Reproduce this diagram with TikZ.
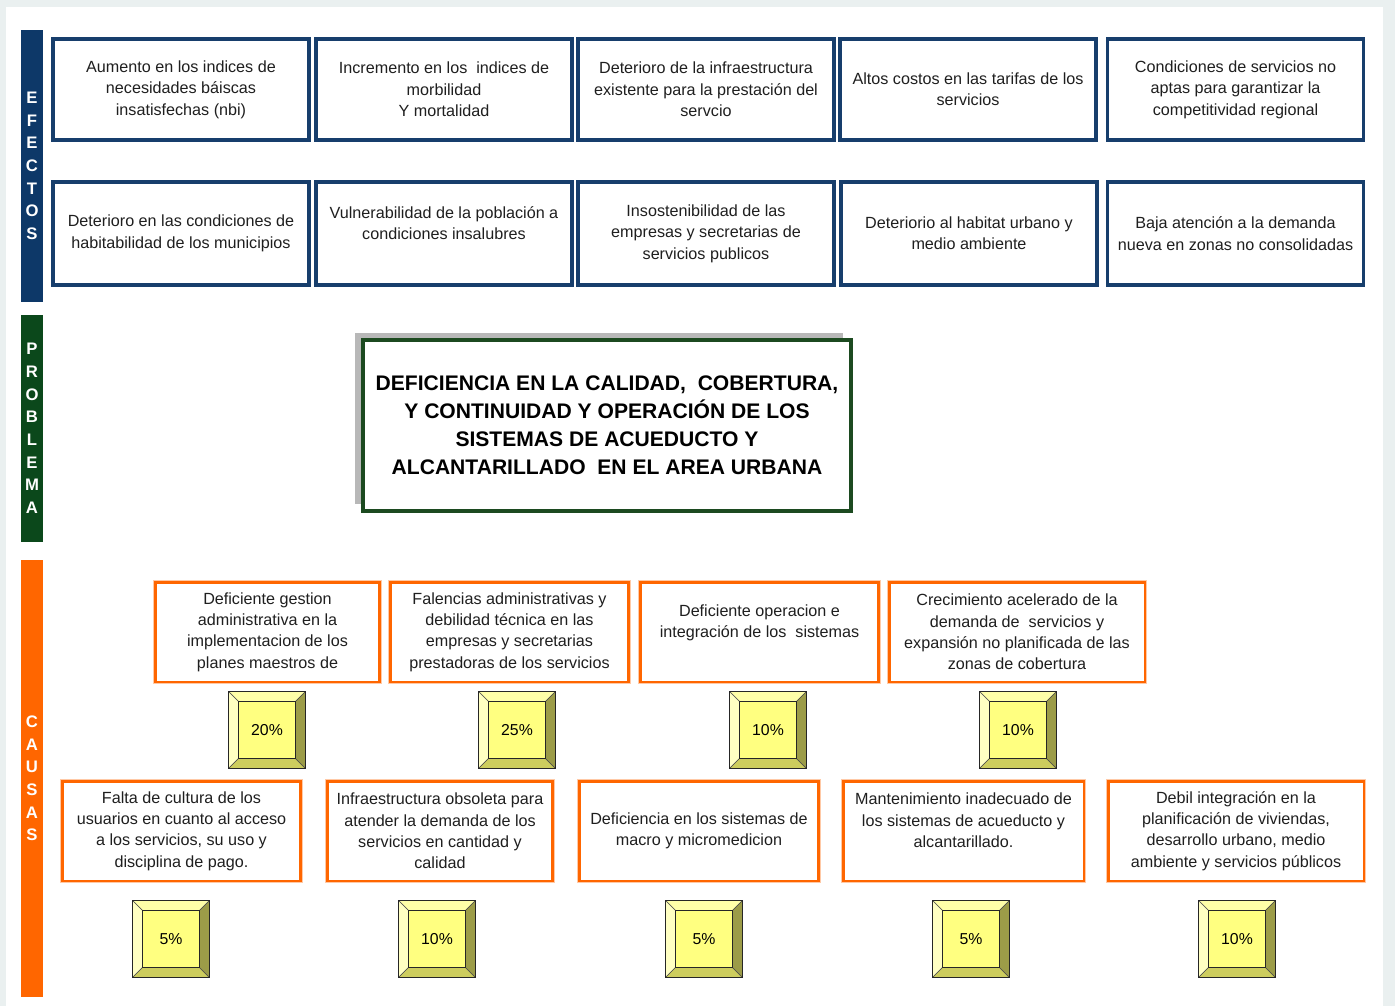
\documentclass[tikz,border=0pt]{standalone}
\usepackage{fontspec}
\setmainfont{Liberation Sans}
\usepackage{tikz}

\definecolor{fondo}{HTML}{EAF0F0}
\definecolor{azulbarra}{HTML}{0D3868}
\definecolor{azulborde}{HTML}{173E6C}
\definecolor{verdebarra}{HTML}{0B481B}
\definecolor{verdeborde}{HTML}{1C4A20}
\definecolor{naranja}{HTML}{FF6600}
\definecolor{cara}{HTML}{FFFF80}
\definecolor{biselsup}{HTML}{FFFFA8}
\definecolor{biselizq}{HTML}{FFFFC2}
\definecolor{biselinf}{HTML}{CDCD5E}
\definecolor{biselder}{HTML}{9C9C48}

\begin{document}
\begin{tikzpicture}[x=0.02cm, y=-0.02cm,
                    barra/.style={rectangle, minimum width=0.44cm, inner sep=0pt, text=white, align=center,
                                  font=\bfseries\fontsize{9.5}{12.9}\selectfont},
                    efecto/.style={rectangle, draw=azulborde, line width=1.8pt, minimum width=5.12cm, minimum height=#1,
                                   align=center, inner sep=2pt, font=\fontsize{9.2}{12.2}\selectfont, text=black!88},
                    problema/.style={rectangle, draw=verdeborde, line width=1.8pt, fill=white, minimum width=9.76cm,
                                     minimum height=3.42cm, align=center, font=\bfseries\fontsize{12}{15.9}\selectfont},
                    sombra/.style={rectangle, fill=black!28, minimum width=9.76cm, minimum height=3.42cm},
                    causa/.style={rectangle, draw=naranja, line width=1.7pt, preaction={draw=naranja!35, line width=2.6pt},
                                  fill=white, minimum width=#1, minimum height=2cm, align=center, inner sep=2pt,
                                  font=\fontsize{9.2}{12.2}\selectfont, text=black!88},
                    pct/.style={rectangle, minimum size=1.54cm, inner sep=0pt, fill=cara, draw=black!85, line width=0.6pt,
                                font=\fontsize{9}{11}\selectfont,
                                path picture={
                                  \coordinate (sw) at (path picture bounding box.south west);
                                  \coordinate (se) at (path picture bounding box.south east);
                                  \coordinate (nw) at (path picture bounding box.north west);
                                  \coordinate (ne) at (path picture bounding box.north east);
                                  \coordinate (isw) at ([shift={(0.2cm,0.2cm)}]sw);
                                  \coordinate (ise) at ([shift={(-0.2cm,0.2cm)}]se);
                                  \coordinate (inw) at ([shift={(0.2cm,-0.2cm)}]nw);
                                  \coordinate (ine) at ([shift={(-0.2cm,-0.2cm)}]ne);
                                  \filldraw[fill=biselsup, draw=black!70, line width=0.3pt] (nw) -- (ne) -- (ine) -- (inw) -- cycle;
                                  \filldraw[fill=biselizq, draw=black!70, line width=0.3pt] (nw) -- (inw) -- (isw) -- (sw) -- cycle;
                                  \filldraw[fill=biselinf, draw=black!70, line width=0.3pt] (sw) -- (isw) -- (ise) -- (se) -- cycle;
                                  \filldraw[fill=biselder, draw=black!70, line width=0.3pt] (se) -- (ise) -- (ine) -- (ne) -- cycle;
                                  \draw[black!85, line width=0.6pt] (isw) rectangle (ine);
                                }}]
  \useasboundingbox (0,0) rectangle (1395,1006);
  \fill[fondo] (0,0) rectangle (1395,1006);
  \fill[white] (6,7) rectangle (1383,1006);

  % barras laterales
  \node[barra, fill=azulbarra, minimum height=5.44cm] (efectos) at (32,166) {E\\F\\E\\C\\T\\O\\S};
  \node[barra, fill=verdebarra, minimum height=4.54cm] (problemas) at (32,428.5) {P\\R\\O\\B\\L\\E\\M\\A};
  \node[barra, fill=naranja, minimum height=8.74cm] (causas) at (32,778.5) {C\\A\\U\\S\\A\\S};

  % efectos
  \node[efecto=2.02cm] (e0-0) at (181,89.5) {Aumento en los indices de\\necesidades báiscas\\insatisfechas (nbi)};
  \node[efecto=2.02cm] (e0-1) at (444,89.5) {Incremento en los~ indices de\\morbilidad\\Y mortalidad};
  \node[efecto=2.02cm] (e0-2) at (706,89.5) {Deterioro de la infraestructura\\existente para la prestación del\\servcio};
  \node[efecto=2.02cm] (e0-3) at (968,89.5) {Altos costos en las tarifas de los\\servicios};
  \node[efecto=2.02cm] (e0-4) at (1235.5,89.5) {Condiciones de servicios no\\aptas para garantizar la\\competitividad regional};
  \node[efecto=2.06cm] (e1-0) at (181,233.5) {Deterioro en las condiciones de\\habitabilidad de los municipios};
  \node[efecto=2.06cm] (e1-1) at (444,233.5) {Vulnerabilidad de la población a\\condiciones insalubres\\\mbox{}};
  \node[efecto=2.06cm] (e1-2) at (706,233.5) {Insostenibilidad de las\\empresas y secretarias de\\servicios publicos};
  \node[efecto=2.06cm] (e1-3) at (969,233.5) {Deteriorio al habitat urbano y\\medio ambiente};
  \node[efecto=2.06cm] (e1-4) at (1235.5,233.5) {Baja atención a la demanda\\nueva en zonas no consolidadas};

  % problema
  \node[sombra] (sombra) at (599,418.5) {};
  \node[problema] (prob) at (607,425.5) {DEFICIENCIA EN LA CALIDAD,\ \ COBERTURA,\\Y CONTINUIDAD Y OPERACIÓN DE LOS\\SISTEMAS DE ACUEDUCTO Y\\ALCANTARILLADO\ \ EN EL AREA URBANA};

  % causas
  \node[causa=4.5cm] (c0-0) at (267.5,632) {Deficiente gestion\\administrativa en la\\implementacion de los\\planes maestros de};
  \node[causa=4.78cm] (c0-1) at (509.5,632) {Falencias administrativas y\\debilidad técnica en las\\empresas y secretarias\\prestadoras de los servicios};
  \node[causa=4.78cm] (c0-2) at (759.5,632) {Deficiente operacion e\\integración de los~ sistemas\\\mbox{}};
  \node[causa=5.12cm] (c0-3) at (1017,632) {Crecimiento acelerado de la\\demanda de~ servicios y\\expansión no planificada de las\\zonas de cobertura};
  \node[causa=4.78cm] (c1-0) at (181.5,831) {Falta de cultura de los\\usuarios en cuanto al acceso\\a los servicios, su uso y\\disciplina de pago.};
  \node[causa=4.52cm] (c1-1) at (440,831) {Infraestructura obsoleta para\\atender la demanda de los\\servicios en cantidad y\\calidad};
  \node[causa=4.8cm] (c1-2) at (699,831) {Deficiencia en los sistemas de\\macro y micromedicion};
  \node[causa=4.82cm] (c1-3) at (963.5,831) {Mantenimiento inadecuado de\\los sistemas de acueducto y\\alcantarillado.\\\mbox{}};
  \node[causa=5.12cm] (c1-4) at (1236,831) {Debil integración en la\\planificación de viviendas,\\desarrollo urbano, medio\\ambiente y servicios públicos};

  % porcentajes
  \node[pct] (p0-0) at (267,730) {20\%};
  \node[pct] (p0-1) at (517,730) {25\%};
  \node[pct] (p0-2) at (768,730) {10\%};
  \node[pct] (p0-3) at (1018,730) {10\%};
  \node[pct] (p1-0) at (171,939) {5\%};
  \node[pct] (p1-1) at (437,939) {10\%};
  \node[pct] (p1-2) at (704,939) {5\%};
  \node[pct] (p1-3) at (971,939) {5\%};
  \node[pct] (p1-4) at (1237,939) {10\%};
\end{tikzpicture}
\end{document}
